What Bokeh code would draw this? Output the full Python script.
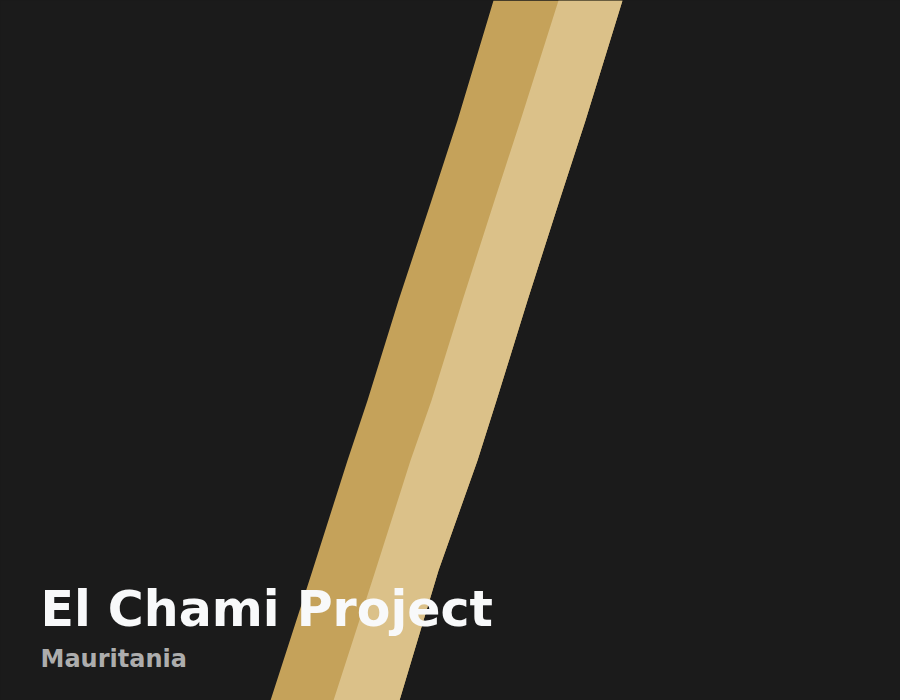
from bokeh.plotting import figure
from bokeh.models import Range1d
from bokeh.core.properties import value
from bokeh.embed import file_html
from bokeh.resources import INLINE

# Band edge positions (pixel-like units), sampled at several heights
band_y = [0, 120, 200, 300, 400, 460, 570, 700]
edge_left = [493, 457, 431, 398, 367, 347, 312, 270]
edge_mid = [558, 520, 494, 462, 431, 410, 375, 333]
edge_right = [622, 585, 559, 527, 496, 477, 438, 399]

title_text = ["El Chami Project"]
subtitle_text = ["Mauritania"]

BG = "#1b1b1b"

p = figure(width=900, height=700, output_backend="svg", toolbar_location=None,
           x_range=Range1d(0, 900), y_range=Range1d(700, 0),
           min_border=0, background_fill_color=BG, border_fill_color=BG)
p.axis.visible = False
p.grid.visible = False
p.outline_line_color = None

# dark band drawn under the light one so no seam shows between them
p.harea(y=band_y, x1=edge_left, x2=edge_right, fill_color="#c5a25a", fill_alpha=1)
p.harea(y=band_y, x1=edge_mid, x2=edge_right, fill_color="#dbc189", fill_alpha=1)

p.text(x=[40], y=[609], text=title_text, text_color="#f8f9fa",
       text_font=value("DejaVu Sans"), text_font_style="bold",
       text_font_size="49px", text_baseline="alphabetic", text_align="left")
p.text(x=[40], y=[658], text=subtitle_text, text_color="#adadad",
       text_font=value("DejaVu Sans"), text_font_style="bold",
       text_font_size="24px", text_baseline="alphabetic", text_align="left")

page_template = "{% block preamble %}<style>html, body { background: #1b1b1b; }</style>{% endblock %}"

open("out.html", "w").write(file_html(p, INLINE, template=page_template))
